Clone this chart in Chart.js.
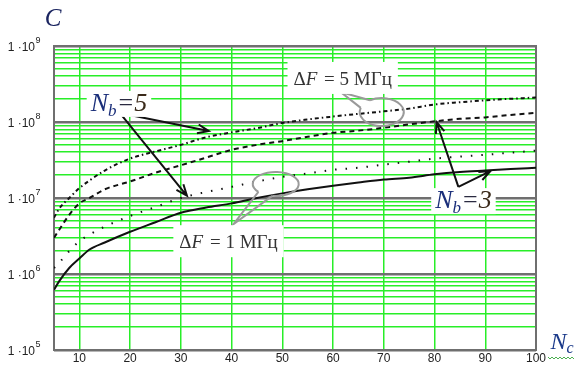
<!DOCTYPE html>
<html>
<head>
<meta charset="utf-8">
<script src="https://cdn.jsdelivr.net/npm/chart.js@4.4.1/dist/chart.umd.min.js"></script>
<style>
  body { margin: 0; background: #fff; }
  #wrap { width: 574px; height: 365px; }
</style>
</head>
<body>
<div id="wrap"><canvas id="chart" width="574" height="365"></canvas></div>
<script>
// Nc values sampled along the curves
const nc = [5, 6, 8, 10, 12, 15, 20, 25, 30, 35, 40, 45, 50, 55, 60, 65, 70, 75, 80, 85, 90, 95, 100];

// dF = 5 MHz, Nb = 5 (dash-dot)
const cF5Nb5 = [5.5e6, 7.2e6, 1.0e7, 1.35e7, 1.7e7, 2.3e7, 3.3e7, 4.1e7, 5.0e7, 6.3e7, 7.3e7, 8.3e7,
                9.7e7, 1.08e8, 1.18e8, 1.28e8, 1.38e8, 1.5e8, 1.7e8, 1.82e8, 1.93e8, 2.02e8, 2.1e8];
// dF = 5 MHz, Nb = 3 (dashed)
const cF5Nb3 = [3.0e6, 3.8e6, 6.0e6, 8.5e6, 1.0e7, 1.3e7, 1.65e7, 2.15e7, 2.7e7, 3.4e7, 4.3e7, 5.0e7,
                5.6e7, 6.4e7, 7.2e7, 7.7e7, 8.4e7, 9.3e7, 1.02e8, 1.1e8, 1.15e8, 1.24e8, 1.32e8];
// dF = 1 MHz, Nb = 5 (dotted)
const cF1Nb5 = [1.2e6, 1.4e6, 2.0e6, 2.7e6, 3.3e6, 4.2e6, 5.8e6, 7.6e6, 1.0e7, 1.2e7, 1.4e7, 1.65e7,
                1.9e7, 2.1e7, 2.35e7, 2.5e7, 2.75e7, 3.0e7, 3.3e7, 3.5e7, 3.7e7, 3.95e7, 4.2e7];
// dF = 1 MHz, Nb = 3 (solid)
const cF1Nb3 = [6.2e5, 8.0e5, 1.2e6, 1.6e6, 2.1e6, 2.6e6, 3.6e6, 4.8e6, 6.4e6, 7.5e6, 8.5e6, 1.0e7,
                1.15e7, 1.3e7, 1.45e7, 1.6e7, 1.75e7, 1.85e7, 2.05e7, 2.2e7, 2.3e7, 2.4e7, 2.5e7];

const xTicks = [10, 20, 30, 40, 50, 60, 70, 80, 90, 100];
const yExponents = [5, 6, 7, 8, 9];

const GREEN = 'rgb(40, 238, 40)';
const GRAY = '#6f6f6f';
const SERIF = '"Liberation Serif", "Times New Roman", serif';
const SANS = '"Liberation Sans", Arial, sans-serif';

function isDecade(v) {
    const e = Math.log10(v);
    return Math.abs(e - Math.round(e)) < 1e-9;
}

function series(values) {
    return nc.map((x, i) => ({ x: x, y: values[i] }));
}

// draw a run of text pieces centred at (cx, cy), optionally on a white box
function drawRuns(ctx, runs, cx, cy, box) {
    let w = 0;
    runs.forEach(r => {
        ctx.font = r.font;
        r.w = ctx.measureText(r.t).width + (r.gap || 0);
        w += r.w;
    });
    let x = cx - w / 2;
    if (box) {
        ctx.fillStyle = '#fff';
        ctx.fillRect(x - box[0], cy - box[1], w + box[0] * 2, box[1] * 2);
    }
    ctx.textBaseline = 'alphabetic';
    ctx.textAlign = 'left';
    runs.forEach(r => {
        ctx.font = r.font;
        ctx.fillStyle = r.color;
        ctx.fillText(r.t, x, cy + 7 + (r.dy || 0));
        x += r.w;
    });
}

function arrow(ctx, x0, y0, x1, y1) {
    ctx.save();
    ctx.strokeStyle = '#111';
    ctx.lineWidth = 2;
    ctx.beginPath();
    ctx.moveTo(x0, y0);
    ctx.lineTo(x1, y1);
    const a = Math.atan2(y1 - y0, x1 - x0);
    const len = 12;
    ctx.moveTo(x1 - len * Math.cos(a - 0.38), y1 - len * Math.sin(a - 0.38));
    ctx.lineTo(x1, y1);
    ctx.lineTo(x1 - len * Math.cos(a + 0.38), y1 - len * Math.sin(a + 0.38));
    ctx.stroke();
    ctx.restore();
}

function bubble(ctx, cx, cy, rx, ry, tx, ty) {
    ctx.save();
    ctx.strokeStyle = '#9a9a9a';
    ctx.lineWidth = 2;
    const a = Math.atan2((ty - cy) / ry, (tx - cx) / rx);
    const p = t => [cx + rx * Math.cos(t), cy + ry * Math.sin(t)];
    const p1 = p(a - 0.35), p2 = p(a + 0.35);
    ctx.beginPath();
    ctx.ellipse(cx, cy, rx, ry, 0, a + 0.35, a - 0.35 + Math.PI * 2);
    ctx.stroke();
    ctx.beginPath();
    ctx.moveTo(p1[0], p1[1]);
    ctx.lineTo(tx, ty);
    ctx.lineTo(p2[0], p2[1]);
    ctx.stroke();
    ctx.restore();
}

const decor = {
    id: 'decor',
    beforeDraw(chart) {
        const ctx = chart.ctx;
        ctx.save();
        ctx.fillStyle = '#fff';
        ctx.fillRect(0, 0, chart.width, chart.height);
        ctx.restore();
    },
    beforeDatasetsDraw(chart) {
        const ctx = chart.ctx;
        const a = chart.chartArea;
        ctx.save();
        ctx.strokeStyle = GRAY;
        ctx.lineWidth = 2;
        ctx.strokeRect(a.left, a.top, a.right - a.left, a.bottom - a.top);
        ctx.restore();
    },
    afterDraw(chart) {
        const ctx = chart.ctx;
        const xs = chart.scales.x, ys = chart.scales.y;
        const px = v => xs.getPixelForValue(v);
        const py = v => ys.getPixelForValue(v);
        ctx.save();

        // tick labels
        ctx.fillStyle = '#222';
        ctx.textBaseline = 'middle';
        ctx.font = '12px ' + SANS;
        ctx.textAlign = 'center';
        xTicks.forEach(t => ctx.fillText(String(t), px(t), chart.chartArea.bottom + 9));
        yExponents.forEach(e => {
            const y = py(Math.pow(10, e)) + 2;
            ctx.font = '12px ' + SANS;
            ctx.textAlign = 'right';
            ctx.fillText('1 \u00b710', 35, y);
            ctx.font = '9px ' + SANS;
            ctx.textAlign = 'left';
            ctx.fillText(String(e), 35.5, y - 7);
        });

        // axis titles
        drawRuns(ctx, [{ t: 'C', font: 'italic 25px ' + SERIF, color: '#1b2560' }], 53, 19);
        drawRuns(ctx, [
            { t: 'N', font: 'italic 24px ' + SERIF, color: '#1b3a8a' },
            { t: 'c', font: 'italic 16px ' + SERIF, color: '#1b3a8a', dy: 4 }
        ], 562, 342);
        ctx.strokeStyle = '#4caf50';
        ctx.lineWidth = 1;
        ctx.beginPath();
        for (let x = 548; x <= 574; x += 2) {
            ctx.lineTo(x, 358 + ((x / 2) % 2 ? 1 : -1));
        }
        ctx.stroke();

        // callout bubbles
        bubble(ctx, px(69.6), py(1.35e8), 22, 14, px(61.5), py(2.48e8));
        bubble(ctx, px(48.7), py(1.53e7), 23, 12, px(40.4), py(4.55e6));

        // arrows
        arrow(ctx, px(18.0), py(1.31e8), px(35.5), py(7.6e7));
        arrow(ctx, px(18.0), py(1.31e8), px(31.2), py(1.07e7));
        arrow(ctx, px(84.7), py(1.4e7), px(80.4), py(1.0e8));
        arrow(ctx, px(84.7), py(1.4e7), px(91.0), py(2.26e7));

        // labels
        const nb = (n, cx, cy) => drawRuns(ctx, [
            { t: 'N', font: 'italic 26px ' + SERIF, color: '#1b2f7a' },
            { t: 'b', font: 'italic 17px ' + SERIF, color: '#1b2f7a', dy: 5, gap: 2 },
            { t: '=', font: '26px ' + SERIF, color: '#2a2a40', gap: 1 },
            { t: n, font: 'italic 26px ' + SERIF, color: '#3a2a1a' }
        ], cx, cy, [4, 13]);
        nb('5', px(17.8), py(1.73e8));
        nb('3', px(85.7), py(9.1e6));

        const df = (n, cx, cy) => drawRuns(ctx, [
            { t: '\u0394', font: '19px ' + SERIF, color: '#333' },
            { t: 'F', font: 'italic 19px ' + SERIF, color: '#333', gap: 2 },
            { t: ' = ', font: '19px ' + SERIF, color: '#333' },
            { t: n + ' ', font: '19px ' + SERIF, color: '#333' },
            { t: '\u041c\u0413\u0446', font: '19px ' + SERIF, color: '#333' }
        ], cx, cy, [6, 16]);
        df('5', px(61.9), py(3.8e8));
        df('1', px(39.4), py(2.7e6));

        ctx.restore();
    }
};

new Chart(document.getElementById('chart'), {
    type: 'line',
    data: {
        datasets: [
            { data: series(cF5Nb5), borderColor: '#111', borderWidth: 2, borderDash: [4, 3, 1.5, 3] },
            { data: series(cF5Nb3), borderColor: '#111', borderWidth: 2, borderDash: [5, 4] },
            { data: series(cF1Nb5), borderColor: '#111', borderWidth: 2, borderDash: [1.5, 9] },
            { data: series(cF1Nb3), borderColor: '#111', borderWidth: 2 }
        ]
    },
    options: {
        responsive: false,
        animation: false,
        devicePixelRatio: 1,
        layout: { padding: { top: 46, right: 38, left: 0, bottom: 0 } },
        elements: {
            point: { radius: 0 },
            line: { cubicInterpolationMode: 'monotone', fill: false }
        },
        plugins: {
            legend: { display: false },
            tooltip: { enabled: false }
        },
        scales: {
            x: {
                type: 'linear',
                min: 5,
                max: 100,
                afterBuildTicks: scale => { scale.ticks = xTicks.map(v => ({ value: v })); },
                afterFit: scale => { scale.height = 15; },
                ticks: { display: false, autoSkip: false },
                border: { display: false },
                grid: {
                    drawTicks: false,
                    color: ctx => (ctx.tick && ctx.tick.value === 100 ? GRAY : GREEN),
                    lineWidth: 1.5
                }
            },
            y: {
                type: 'logarithmic',
                min: 1e5,
                max: 1e9,
                afterBuildTicks: scale => {
                    const ticks = [];
                    yExponents.forEach(e => {
                        for (let m = 1; m <= 9; m++) {
                            const v = m * Math.pow(10, e);
                            if (v <= 1e9) ticks.push({ value: v, major: m === 1 });
                        }
                    });
                    scale.ticks = ticks;
                },
                afterFit: scale => { scale.width = 54; },
                ticks: { display: false, autoSkip: false },
                border: { display: false },
                grid: {
                    drawTicks: false,
                    color: ctx => (ctx.tick && isDecade(ctx.tick.value) ? GRAY : GREEN),
                    lineWidth: ctx => (ctx.tick && isDecade(ctx.tick.value) ? 2.5 : 1.5)
                }
            }
        }
    },
    plugins: [decor]
});
</script>
</body>
</html>
